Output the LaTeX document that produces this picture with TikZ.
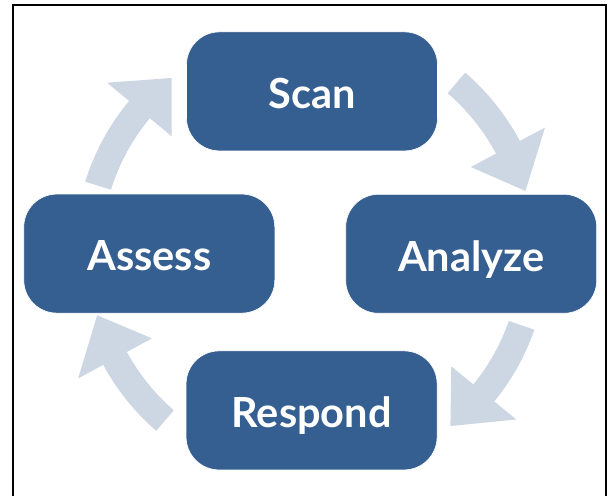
\documentclass[tikz,border=0pt]{standalone}
\usepackage{fontspec}
\setmainfont{Lato}
\usetikzlibrary{calc}
\definecolor{boxblue}{HTML}{365F91}
\definecolor{arrowgray}{HTML}{CDD7E3}
\tikzset{
  stagebox/.style={rectangle, rounded corners=33pt, fill=boxblue, draw=white, line width=0.6pt,
    minimum width=251pt, minimum height=119pt, text=white, inner sep=0pt,
    text height=35.3pt, text depth=0.8pt,
    font=\fontsize{41.5}{46}\selectfont\bfseries},
  cyclearrowstyle/.style={fill=arrowgray},
  frameline/.style={line width=2pt, draw=black}
}
\newcommand\cyclearrow[3]{%
  \fill[cyclearrowstyle] (#1:236.5pt) arc[start angle=#1, end angle=#2, radius=236.5pt]
    -- (#2:265pt) -- (#3:223pt) -- (#2:181pt) -- (#2:209.5pt)
    arc[start angle=#2, end angle=#1, radius=209.5pt] -- cycle;}
\begin{document}
\begin{tikzpicture}[x=1pt,y=1pt]
\useasboundingbox (0,0) rectangle (609,495);
\fill[white] (0,0) rectangle (609,495);
\coordinate (fbl) at (13,-2);
\coordinate (ftl) at (13,489.7);
\coordinate (ftr) at (606.3,489.7);
\coordinate (fbr) at (606.3,-2);
\draw[frameline] (fbl) -- (ftl) -- (ftr) -- (fbr);
\coordinate (C) at (311,243);
\begin{scope}[shift={(C)}]
  \cyclearrow{162.7}{140.3}{128.7}
  \cyclearrow{49.3}{28}{15.9}
  \cyclearrow{-19.2}{-39.2}{-51.3}
  \cyclearrow{229.1}{208.5}{196.5}
\end{scope}
\node[stagebox] (scan) at (312,403.6) {Scan};
\node[stagebox] (analyze) at (471.2,241.2) {Analyze};
\node[stagebox] (respond) at (311.6,84.6) {Respond};
\node[stagebox] (assess) at (149.3,241.4) {Assess};
\end{tikzpicture}
\end{document}
